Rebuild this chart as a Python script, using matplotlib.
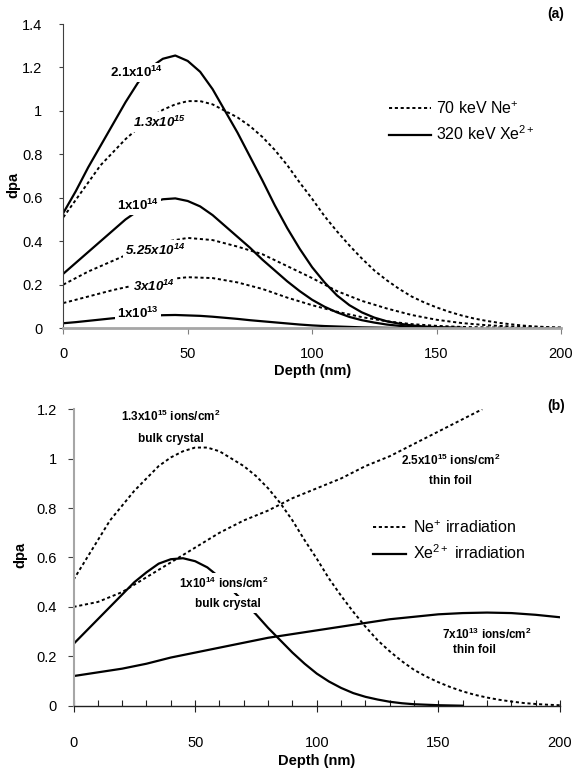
import numpy as np
import matplotlib
matplotlib.use('Agg')
import matplotlib.pyplot as plt
from matplotlib.ticker import MultipleLocator

plt.rcParams['font.family'] = ['Liberation Sans', 'DejaVu Sans']
plt.rcParams['mathtext.fontset'] = 'custom'
plt.rcParams['mathtext.rm'] = 'Liberation Sans'
plt.rcParams['mathtext.bf'] = 'Liberation Sans:bold'
plt.rcParams['mathtext.it'] = 'Liberation Sans:italic'
plt.rcParams['mathtext.bfit'] = 'Liberation Sans:italic:bold'

# depth grids (nm)
depth5 = np.arange(0, 205, 5)
depth_xe = np.arange(0, 165, 5)
depth10 = np.arange(0, 210, 10)
depth_foil_ne = [0, 10, 20, 30, 40, 50, 60, 70, 80, 90, 100, 110, 120, 130, 140, 150, 160, 168]

# 70 keV Ne+ , 1.3e15 ions/cm2 (bulk crystal)
ne_13e15 = [0.51, 0.59, 0.67, 0.75, 0.81, 0.87, 0.92, 0.97, 1.005, 1.03, 1.045,
            1.045, 1.03, 1.00, 0.97, 0.93, 0.88, 0.82, 0.75, 0.67, 0.595,
            0.515, 0.445, 0.38, 0.32, 0.265, 0.22, 0.18, 0.145, 0.118, 0.095,
            0.075, 0.058, 0.044, 0.033, 0.024, 0.017, 0.011, 0.007, 0.004, 0.002]
# 70 keV Ne+ , 5.25e14 and 3e14 (step 10 nm)
ne_525e14 = [0.20, 0.26, 0.31, 0.36, 0.395, 0.415, 0.405, 0.375, 0.34, 0.285, 0.23,
             0.17, 0.125, 0.09, 0.06, 0.038, 0.023, 0.013, 0.007, 0.003, 0.001]
ne_3e14 = [0.115, 0.145, 0.175, 0.20, 0.222, 0.234, 0.23, 0.21, 0.18, 0.14, 0.105,
           0.075, 0.05, 0.031, 0.018, 0.01, 0.005, 0.003, 0.001, 0.0, 0.0]

# 320 keV Xe2+ (step 5 nm up to 160)
xe_21e14 = [0.53, 0.63, 0.74, 0.84, 0.94, 1.04, 1.13, 1.20, 1.24, 1.255, 1.23,
            1.18, 1.10, 1.00, 0.90, 0.79, 0.68, 0.565, 0.46, 0.365, 0.28,
            0.21, 0.15, 0.105, 0.072, 0.048, 0.031, 0.02, 0.012, 0.007, 0.004,
            0.002, 0.001]
xe_1e14 = [0.25, 0.30, 0.35, 0.40, 0.45, 0.50, 0.54, 0.575, 0.593, 0.597, 0.585,
           0.56, 0.52, 0.47, 0.42, 0.37, 0.315, 0.265, 0.215, 0.17, 0.13,
           0.098, 0.072, 0.051, 0.036, 0.025, 0.016, 0.01, 0.006, 0.004, 0.002,
           0.001, 0.0]
xe_1e13 = [0.022, 0.027, 0.033, 0.039, 0.045, 0.05, 0.054, 0.057, 0.059, 0.06, 0.058,
           0.056, 0.052, 0.047, 0.042, 0.036, 0.031, 0.026, 0.021, 0.016, 0.012,
           0.009, 0.007, 0.005, 0.003, 0.002, 0.001, 0.0, 0.0, 0.0, 0.0,
           0.0, 0.0]

# thin foils (panel b)
ne_foil_25e15 = [0.40, 0.42, 0.46, 0.52, 0.58, 0.64, 0.70, 0.75, 0.79, 0.84, 0.88,
                 0.92, 0.97, 1.01, 1.06, 1.11, 1.16, 1.20]
xe_foil_7e13 = [0.12, 0.135, 0.15, 0.17, 0.195, 0.215, 0.235, 0.255, 0.275, 0.29, 0.305,
                0.32, 0.335, 0.35, 0.36, 0.37, 0.375, 0.377, 0.375, 0.368, 0.358]

xticks = [0, 50, 100, 150, 200]
yticks_a = [0, 0.2, 0.4, 0.6, 0.8, 1.0, 1.2, 1.4]
ylabels_a = ['0', '0.2', '0.4', '0.6', '0.8', '1', '1.2', '1.4']
yticks_b = [0, 0.2, 0.4, 0.6, 0.8, 1.0, 1.2]
ylabels_b = ['0', '0.2', '0.4', '0.6', '0.8', '1', '1.2']

dash = (0, (1.6, 1.4))
white = dict(facecolor='white', edgecolor='none', pad=1.5)

fig = plt.figure(figsize=(5.82, 7.68), dpi=100)

# ---------------- panel (a) ----------------
axa = fig.add_axes([0.1088, 0.5729, 0.855, 0.3958])
axa.plot(depth5, ne_13e15, color='black', lw=1.4, ls=dash, label='70 keV Ne$^{+}$')
axa.plot(depth10, ne_525e14, color='black', lw=1.4, ls=dash)
axa.plot(depth10, ne_3e14, color='black', lw=1.4, ls=dash)
axa.plot(depth_xe, xe_21e14, color='black', lw=1.6, label='320 keV Xe$^{2+}$')
axa.plot(depth_xe, xe_1e14, color='black', lw=1.6)
axa.plot(depth_xe, xe_1e13, color='black', lw=1.6)

axa.text(18.8, 1.178, r'$\mathbf{2.1x10^{14}}$', fontsize=9.5, va='center', bbox=white)
axa.text(28, 0.949, r'$\mathbfit{1.3x10^{15}}$', fontsize=9.5, va='center', bbox=white)
axa.text(21.6, 0.566, r'$\mathbf{1x10^{14}}$', fontsize=9.5, va='center', bbox=white)
axa.text(24.8, 0.359, r'$\mathbfit{5.25x10^{14}}$', fontsize=9.5, va='center', bbox=white)
axa.text(27.9, 0.19, r'$\mathbfit{3x10^{14}}$', fontsize=9.5, va='center', bbox=white)
axa.text(21.6, 0.068, r'$\mathbf{1x10^{13}}$', fontsize=9.5, va='center', bbox=white)

axa.set_xlim(0, 200)
axa.set_ylim(0, 1.4)
axa.set_xticks(xticks)
axa.set_yticks(yticks_a)
axa.set_yticklabels(ylabels_a)
for s in ['top', 'right']:
    axa.spines[s].set_visible(False)
axa.spines['bottom'].set_color('#a6a6a6')
axa.spines['bottom'].set_linewidth(2)
axa.spines['left'].set_color('#404040')
axa.spines['left'].set_linewidth(0.8)
axa.tick_params(axis='y', direction='out', length=3, width=0.8, color='#404040', pad=12, labelsize=10.5)
axa.tick_params(axis='x', direction='out', length=4, width=0.8, color='#808080', pad=10, labelsize=10.5)
axa.set_xlabel('Depth (nm)', fontsize=10.5, fontweight='bold')
axa.set_ylabel('dpa', fontsize=10.5, fontweight='bold')
axa.xaxis.set_label_coords(0.5, -0.118)
axa.yaxis.set_label_coords(-0.086, 0.47)
axa.legend(loc='upper left', bbox_to_anchor=(0.655, 0.75), frameon=False, fontsize=11.5,
           handlelength=2.6, handletextpad=0.3, labelspacing=0.5, borderpad=0, borderaxespad=0)

# ---------------- panel (b) ----------------
axb = fig.add_axes([0.1263, 0.0811, 0.836, 0.386])
axb.plot(depth5, ne_13e15, color='black', lw=1.4, ls=dash, label='Ne$^{+}$ irradiation')
axb.plot(depth_foil_ne, ne_foil_25e15, color='black', lw=1.4, ls=dash)
axb.plot(depth_xe, xe_1e14, color='black', lw=1.6, label='Xe$^{2+}$ irradiation')
axb.plot(depth10, xe_foil_7e13, color='black', lw=1.6)

fs_b = 8.5
axb.text(40, 1.17, r'$\mathbf{1.3x10^{15}\ ions/cm^{2}}$', fontsize=fs_b, ha='center', va='center')
axb.text(40, 1.08, 'bulk crystal', fontsize=fs_b, fontweight='bold', ha='center', va='center')
axb.text(155, 0.995, r'$\mathbf{2.5x10^{15}\ ions/cm^{2}}$', fontsize=fs_b, ha='center', va='center')
axb.text(155, 0.91, 'thin foil', fontsize=fs_b, fontweight='bold', ha='center', va='center')
axb.text(62, 0.497, r'$\mathbf{1x10^{14}\ ions/cm^{2}}$', fontsize=fs_b, ha='center', va='center', bbox=white)
axb.text(63.6, 0.41, 'bulk crystal', fontsize=fs_b, fontweight='bold', ha='center', va='center', bbox=white)
axb.text(170, 0.29, r'$\mathbf{7x10^{13}\ ions/cm^{2}}$', fontsize=fs_b, ha='center', va='center')
axb.text(165, 0.225, 'thin foil', fontsize=fs_b, fontweight='bold', ha='center', va='center')

axb.set_xlim(0, 200)
axb.set_ylim(0, 1.2)
axb.set_xticks(xticks)
axb.xaxis.set_minor_locator(MultipleLocator(10))
axb.set_yticks(yticks_b)
axb.set_yticklabels(ylabels_b)
for s in ['top', 'right']:
    axb.spines[s].set_visible(False)
axb.spines['bottom'].set_color('#202020')
axb.spines['bottom'].set_linewidth(1)
axb.spines['left'].set_color('#a6a6a6')
axb.spines['left'].set_linewidth(1.5)
axb.tick_params(axis='y', direction='out', length=4, width=0.8, color='#404040', pad=8, labelsize=10.5)
axb.tick_params(axis='x', which='major', direction='inout', length=8, width=0.8, color='#202020', pad=18, labelsize=10.5)
axb.tick_params(axis='x', which='minor', direction='in', length=4, width=0.8, color='#202020')
axb.set_xlabel('Depth (nm)', fontsize=10.5, fontweight='bold')
axb.set_ylabel('dpa', fontsize=10.5, fontweight='bold')
axb.xaxis.set_label_coords(0.5, -0.163)
axb.yaxis.set_label_coords(-0.095, 0.508)
axb.legend(loc='upper left', bbox_to_anchor=(0.615, 0.63), frameon=False, fontsize=11.5,
           handlelength=2.1, handletextpad=0.4, labelspacing=0.5, borderpad=0, borderaxespad=0)

fig.text(0.954, 0.982, '(a)', fontsize=10, fontweight='bold', ha='center', va='center')
fig.text(0.955, 0.471, '(b)', fontsize=10, fontweight='bold', ha='center', va='center')

fig.savefig('out.png', dpi=100)
